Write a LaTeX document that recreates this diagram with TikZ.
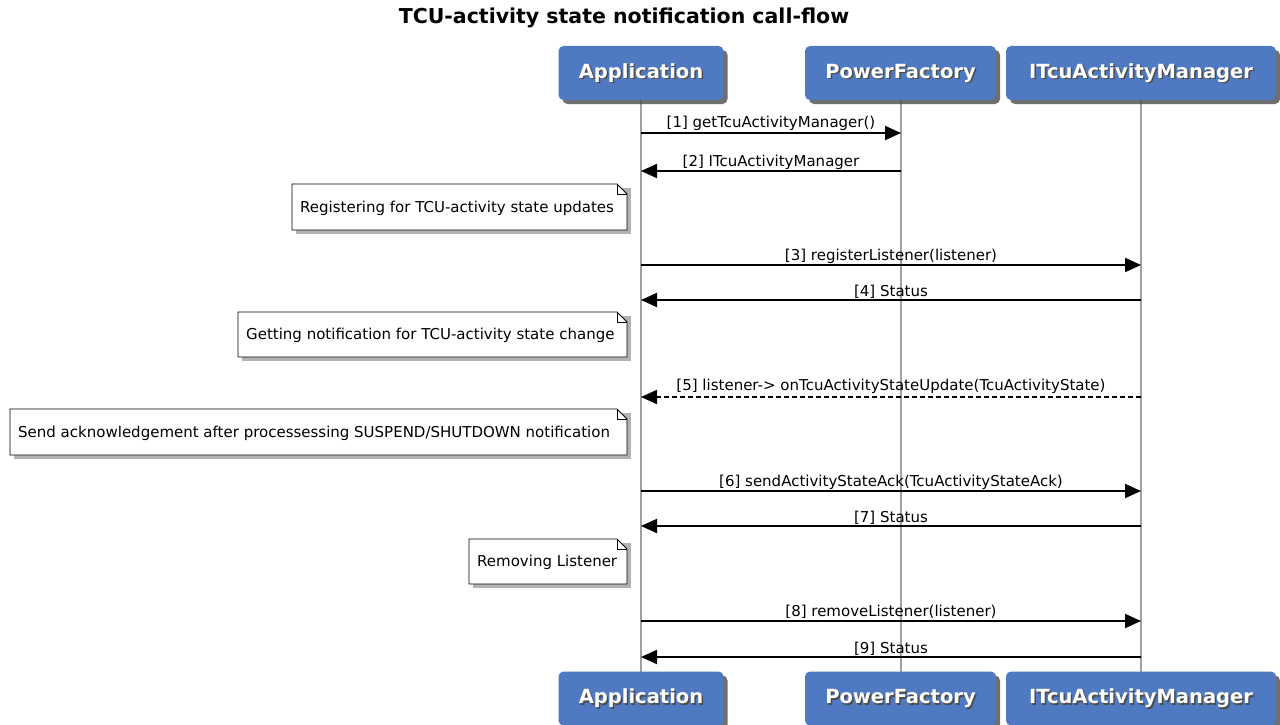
\documentclass[tikz,border=0pt]{standalone}
\usepackage{fontspec}
\setmainfont{DejaVu Sans}
\usetikzlibrary{arrows.meta,shadows}
\definecolor{partblue}{RGB}{79,122,194}
\definecolor{lifegray}{RGB}{160,160,160}
\tikzset{
  part/.style={rounded corners=5pt, fill=partblue, minimum width=#1, minimum height=54,
    inner sep=0pt, drop shadow={shadow xshift=4pt, shadow yshift=-4pt, fill=black!70, opacity=0.8}},
  parttext/.style={text=white, font=\fontsize{19.5}{22}\selectfont\bfseries},
  partshadow/.style={text=black!70, font=\fontsize{19.5}{22}\selectfont\bfseries},
  lifeline/.style={draw=lifegray, line width=2pt},
  msg/.style={draw=black, line width=2pt, -{Triangle[length=16pt,width=14pt]}},
  reply/.style={msg, dashed, dash pattern=on 5pt off 3pt},
  lbl/.style={font=\fontsize{15}{17}\selectfont, inner sep=0pt, anchor=base},
  notetext/.style={font=\fontsize{15}{17}\selectfont, inner sep=0pt, anchor=west},
  noteline/.style={draw=black, line width=0.8pt, fill=white},
  noteshadow/.style={fill=black!30},
}
\newcommand{\partbox}[5]{% name, x, y, width, text
  \node[part=#4] (#1) at (#2,#3) {};
  \node[partshadow] at ([xshift=1.5pt,yshift=-1.5pt]#1.center) {#5};
  \node[parttext] at (#1.center) {#5};
}
\newcommand{\notebox}[6]{% name, x1, y1, x2, y2, text
  \coordinate (#1nw) at (#2,#3);
  \coordinate (#1se) at (#4,#5);
  \fill[noteshadow] ([xshift=4pt,yshift=-4pt]#2,#3) rectangle ([xshift=4pt,yshift=-4pt]#4,#5);
  \draw[noteline] (#2,#3) -- ([xshift=-10pt]#4,#3) -- ([yshift=-10pt]#4,#3) -- (#4,#5) -- (#2,#5) -- cycle;
  \draw[line width=0.8pt] ([xshift=-10pt]#4,#3) -- ([xshift=-10pt,yshift=-10pt]#4,#3) -- ([yshift=-10pt]#4,#3);
  \node[notetext] (#1) at ([xshift=8pt]#2,{(#3+#5)/2+1}) {#6};
}
\begin{document}
\begin{tikzpicture}[x=1pt,y=-1pt]
\useasboundingbox (0,0) rectangle (1280,725);
\fill[white] (0,0) rectangle (1280,725);
\node[font=\fontsize{20.5}{24}\selectfont\bfseries] (title) at (624,18) {TCU-activity state notification call-flow};

% lifelines
\coordinate (appT) at (641,100); \coordinate (appB) at (641,672);
\coordinate (pfT) at (901,100);  \coordinate (pfB) at (901,672);
\coordinate (imT) at (1141,100); \coordinate (imB) at (1141,672);
\draw[lifeline] (appT) -- (appB);
\draw[lifeline] (pfT) -- (pfB);
\draw[lifeline] (imT) -- (imB);

% participants
\partbox{appTop}{641}{73}{165}{Application}
\partbox{pfTop}{900.5}{73}{191}{PowerFactory}
\partbox{imTop}{1141}{73}{270}{ITcuActivityManager}
\partbox{appBot}{641}{698.5}{165}{Application}
\partbox{pfBot}{900.5}{698.5}{191}{PowerFactory}
\partbox{imBot}{1141}{698.5}{270}{ITcuActivityManager}

% message anchors
\foreach \n/\y in {1/133,2/171,3/265,4/300,5/397,6/491,7/526,8/621,9/657}{
  \coordinate (a\n) at (641,\y);
  \coordinate (p\n) at (901,\y);
  \coordinate (m\n) at (1141,\y);
}
\draw[msg] (a1) -- (p1);
\node[lbl] (l1) at (771,128) {[1] getTcuActivityManager()};
\draw[msg] (p2) -- (a2);
\node[lbl] (l2) at (771,166) {[2] ITcuActivityManager};

\notebox{n1}{292}{184}{627}{230}{Registering for TCU-activity state updates}

\draw[msg] (a3) -- (m3);
\node[lbl] (l3) at (891,260) {[3] registerListener(listener)};
\draw[msg] (m4) -- (a4);
\node[lbl] (l4) at (891,296) {[4] Status};

\notebox{n2}{238}{312}{627}{357}{Getting notification for TCU-activity state change}

\draw[reply] (m5) -- (a5);
\node[lbl] (l5) at (891,390) {[5] listener-> onTcuActivityStateUpdate(TcuActivityState)};

\notebox{n3}{10}{409}{627}{455}{Send acknowledgement after processessing SUSPEND/SHUTDOWN notification}

\draw[msg] (a6) -- (m6);
\node[lbl] (l6) at (891,486) {[6] sendActivityStateAck(TcuActivityStateAck)};
\draw[msg] (m7) -- (a7);
\node[lbl] (l7) at (891,522) {[7] Status};

\notebox{n4}{469}{539}{627}{584}{Removing Listener}

\draw[msg] (a8) -- (m8);
\node[lbl] (l8) at (891,616) {[8] removeListener(listener)};
\draw[msg] (m9) -- (a9);
\node[lbl] (l9) at (891,653) {[9] Status};
\end{tikzpicture}
\end{document}
